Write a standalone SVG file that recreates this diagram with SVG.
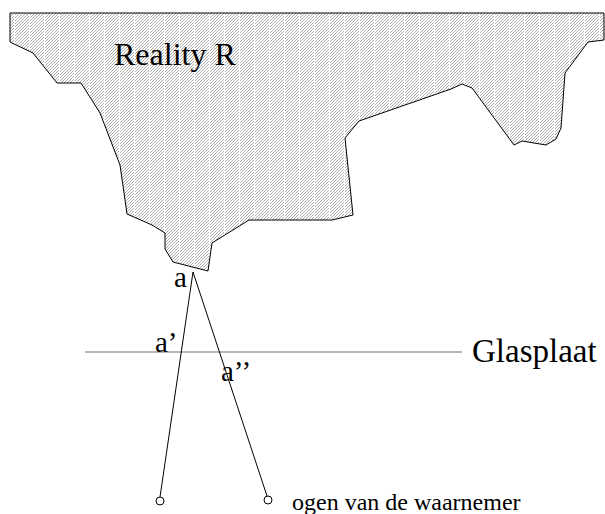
<svg xmlns="http://www.w3.org/2000/svg" width="605" height="514" viewBox="0 0 605 514">
<style>
.t{font-family:"Liberation Serif","Times New Roman",serif;fill:#000}
.ray{stroke:#000;stroke-width:1;fill:none}
.eye{stroke:#000;stroke-width:1;fill:#fff}
</style>
<defs>
<pattern id="hatch" patternUnits="userSpaceOnUse" x="0" y="0" width="15" height="3">
<rect width="15" height="3" fill="#fff"/>
<path d="M-3,3 L0,0 M0,3 L3,0 M3,3 L6,0 M6,3 L9,0 M9,3 L12,0 M12,3 L15,0 M15,3 L18,0" stroke="#a3a3a3" stroke-width="0.9"/>
<rect x="14" y="0" width="1" height="3" fill="#fff"/>
</pattern>
</defs>
<g id="reality">
<polygon points="10,13 604,13 604,40 588,42 565,73 561,128 556,139 546,145 522,141 514,145 472,88 462,84 451,89 359,121 345,138 353,215 332,220 249,220 212,243 208,271 173,262 165,249 165,233 152,225 127,214 120,165 100,113 81,83 57,83 33,53 10,42" fill="url(#hatch)" stroke="#000" stroke-width="1"/>
<text class="t" x="114" y="65" font-size="32">Reality R</text>
</g>
<g id="glasplaat">
<line x1="85" y1="352" x2="462" y2="352" stroke="#707070" stroke-width="1.2"/>
<text class="t" x="472" y="362" font-size="33">Glasplaat</text>
</g>
<g id="connectors">
<line class="ray" x1="193" y1="272" x2="160" y2="497"/>
<line class="ray" x1="193" y1="272" x2="267" y2="496"/>
</g>
<g id="eye-left"><circle class="eye" cx="160" cy="501" r="4"/></g>
<g id="eye-right"><circle class="eye" cx="268" cy="500" r="4"/></g>
<g id="labels">
<text class="t" x="174" y="287" font-size="29">a</text>
<text class="t" x="155" y="352" font-size="29">a’</text>
<text class="t" x="221" y="381" font-size="29">a’’</text>
<text class="t" x="292" y="510" font-size="24">ogen van de waarnemer</text>
</g>
</svg>
